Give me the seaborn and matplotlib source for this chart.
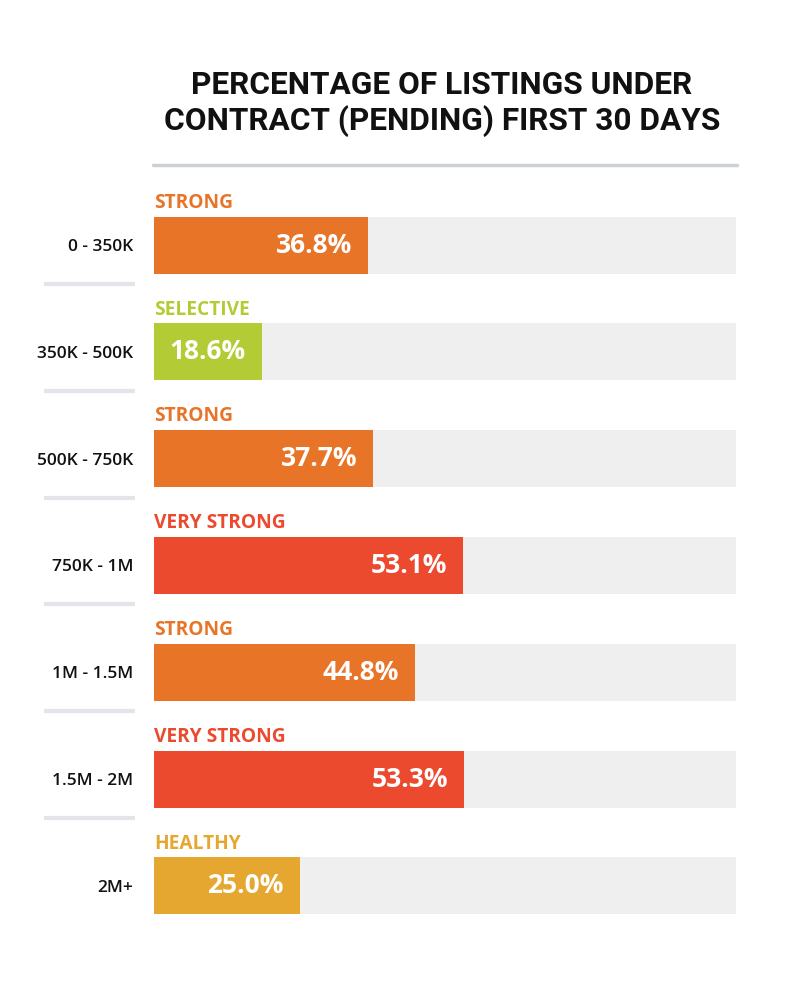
import numpy as np
import matplotlib.pyplot as plt
import matplotlib.transforms as mtransforms
import seaborn as sns
import pandas as pd

sns.set_theme(style='white')
plt.rcParams['font.family'] = ['Open Sans', 'DejaVu Sans']

# DATA
price_ranges = ['0 - 350K', '350K - 500K', '500K - 750K', '750K - 1M',
                '1M - 1.5M', '1.5M - 2M', '2M+']
pct_pending = [36.8, 18.6, 37.7, 53.1, 44.8, 53.3, 25.0]
market_label = ['STRONG', 'SELECTIVE', 'STRONG', 'VERY STRONG',
                'STRONG', 'VERY STRONG', 'HEALTHY']
full_scale = [100] * len(price_ranges)

label_colors = {'STRONG': '#E87428',
                'SELECTIVE': '#B3CC36',
                'VERY STRONG': '#EB4A2F',
                'HEALTHY': '#E5A72F'}

df = pd.DataFrame({'range': price_ranges, 'pct': pct_pending,
                   'label': market_label, 'full': full_scale})

W, H = 800, 993
fig = plt.figure(figsize=(W / 100, H / 100), dpi=100)
fig.patch.set_facecolor('white')
# axes spanning bar area (px 154..736 horizontally)
ax = fig.add_axes([154 / W, 1 - 950 / H, (736 - 154) / W, 800 / H])

bar_w = 0.533
# GRAY TRACK
sns.barplot(data=df, x='full', y='range', order=price_ranges, color='#EFEFEF',
            width=bar_w, saturation=1, ax=ax, edgecolor='none')
# VALUE BARS
sns.barplot(data=df, x='pct', y='range', hue='label', order=price_ranges,
            palette=label_colors, width=bar_w, saturation=1, dodge=False,
            legend=False, ax=ax, edgecolor='none')

ax.set_xlim(0, 100)
ax.set_ylim(6.60, -0.89)
for s in ax.spines.values():
    s.set_visible(False)
ax.set_xticks([])
ax.set_xlabel('')
ax.set_ylabel('')
ax.tick_params(axis='y', length=0, pad=15)
ax.set_yticks(range(len(price_ranges)))
ax.set_yticklabels(price_ranges, fontsize=12.5, fontweight='semibold', color='#111111')

# VALUE + MARKET LABELS
for i, (v, lab) in enumerate(zip(pct_pending, market_label)):
    ax.text(v - 2.8, i + 0.0, '%.1f%%' % v, ha='right', va='center',
            color='white', fontsize=19, fontweight='bold')
    ax.text(0, i - bar_w / 2 - 0.035, lab, ha='left', va='bottom',
            color=label_colors[lab], fontsize=13.8, fontweight='bold')

# SEPARATORS ON THE LEFT
trans = mtransforms.blended_transform_factory(fig.transFigure, ax.transData)
for i in range(len(price_ranges) - 1):
    ax.plot([44 / W, 135 / W], [i + 0.365, i + 0.365], transform=trans,
            color='#E3E5EA', lw=3, clip_on=False, solid_capstyle='butt')

# TITLE
title_font = ['Roboto', 'DejaVu Sans']
fig.text(442 / W, 1 - 85 / H, 'PERCENTAGE OF LISTINGS UNDER',
         ha='center', va='center', fontsize=22.8, fontweight='bold',
         family=title_font, color='#111111')
fig.text(442 / W, 1 - 121 / H, 'CONTRACT (PENDING) FIRST 30 DAYS',
         ha='center', va='center', fontsize=22.8, fontweight='bold',
         family=title_font, color='#111111')
fig.add_artist(plt.Line2D([153 / W, 737 / W], [1 - 165 / H, 1 - 165 / H],
                          color='#CDD1D6', lw=2.5, transform=fig.transFigure))

plt.savefig('out.png', dpi=100, facecolor='white')
